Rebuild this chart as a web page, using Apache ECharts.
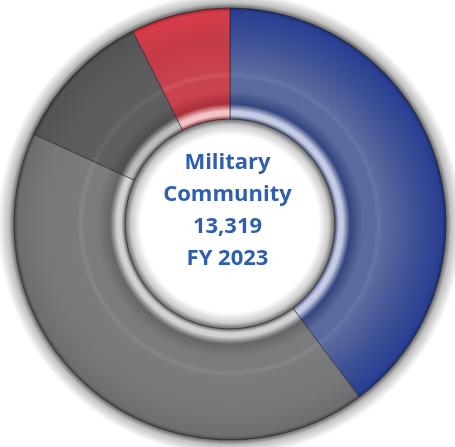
<!DOCTYPE html>
<html><head><meta charset="utf-8">
<script src="https://cdn.jsdelivr.net/npm/echarts@6/dist/echarts.min.js"></script>
<style>html,body{margin:0;padding:0;background:#fff}#c{width:455px;height:447px}</style>
</head><body><div id="c"></div>
<script>
const categories = ['Blue segment', 'Gray segment', 'Dark gray segment', 'Red segment'];
const values = [5300, 5600, 1430, 989];
const centerLines = ['Military', 'Community', '13,319', 'FY 2023'];

const CX = 230, CY = 224, R_IN = 105, R_OUT = 216;
const palettes = [
  {inner:'#4a5480', hi:'#c4cbe2', band:'#34467f', mid:'#5b6a9e', ring:'#6674a6', body:'#3d5096', outer:'#2a3f92', edge:'#1e2e70'},
  {inner:'#6a6a6c', hi:'#d2d2d4', band:'#666669', mid:'#7b7b7e', ring:'#86868a', body:'#78787b', outer:'#6e6e71', edge:'#4a4a4c'},
  {inner:'#5a5a5c', hi:'#bcbcbe', band:'#4e4e50', mid:'#5e5e60', ring:'#68686a', body:'#5a5a5c', outer:'#545456', edge:'#3a3a3c'},
  {inner:'#9a4048', hi:'#f2c4c6', band:'#aa2f3a', mid:'#c8434f', ring:'#d0525c', body:'#c53a47', outer:'#d83b4b', edge:'#9a2430'}
];
function grad(p){
  const f = r => r / R_OUT;
  return new echarts.graphic.RadialGradient(CX, CY, R_OUT, [
    {offset: f(R_IN), color: p.inner},
    {offset: f(R_IN+4), color: p.hi},
    {offset: f(R_IN+8), color: p.hi},
    {offset: f(R_IN+15), color: p.band},
    {offset: f(R_IN+28), color: p.mid},
    {offset: f(R_IN+40), color: p.mid},
    {offset: f(R_IN+44), color: p.ring},
    {offset: f(R_IN+48), color: p.mid},
    {offset: f(R_OUT-30), color: p.body},
    {offset: f(R_OUT-4), color: p.outer},
    {offset: 1, color: p.edge}
  ], true);
}
const SH = 16;
const outerShadow = new echarts.graphic.RadialGradient(CX, CY, R_OUT + SH, [
  {offset: R_OUT / (R_OUT + SH), color: 'rgba(0,0,0,0.6)'},
  {offset: (R_OUT + 5) / (R_OUT + SH), color: 'rgba(0,0,0,0.25)'},
  {offset: 1, color: 'rgba(0,0,0,0)'}
], true);
const innerShadow = new echarts.graphic.RadialGradient(CX, CY, R_IN, [
  {offset: (R_IN - SH) / R_IN, color: 'rgba(0,0,0,0)'},
  {offset: (R_IN - 6) / R_IN, color: 'rgba(0,0,0,0.2)'},
  {offset: 1, color: 'rgba(0,0,0,0.6)'}
], true);

const chart = echarts.init(document.getElementById('c'), null, {renderer:'canvas'});
chart.setOption({
  animation: false,
  series: [
    {
      type: 'pie', silent: true, z: 1,
      center: [CX, CY], radius: [R_OUT - 1, R_OUT + SH],
      label: {show: false}, labelLine: {show: false},
      itemStyle: {color: outerShadow},
      data: [{value: 1}]
    },
    {
      type: 'pie', silent: true, z: 1,
      center: [CX, CY], radius: [R_IN - SH, R_IN + 1],
      label: {show: false}, labelLine: {show: false},
      itemStyle: {color: innerShadow},
      data: [{value: 1}]
    },
    {
      type: 'pie', silent: true, z: 2,
      center: [CX, CY], radius: [R_IN, R_OUT],
      startAngle: 90, clockwise: true,
      label: {show: false}, labelLine: {show: false},
      itemStyle: {borderColor: 'rgba(30,30,30,0.7)', borderWidth: 0.8},
      data: categories.map((n, i) => ({name: n, value: values[i], itemStyle: {color: grad(palettes[i])}}))
    }
  ],
  graphic: [{
    type: 'text', left: 'center', top: 147, z: 10,
    style: {
      text: centerLines.join('\n'),
      x: 0, y: 0,
      textAlign: 'center',
      fill: '#2f5fad',
      font: 'bold 22px "Open Sans"',
      lineHeight: 32
    }
  }]
});
</script></body></html>
